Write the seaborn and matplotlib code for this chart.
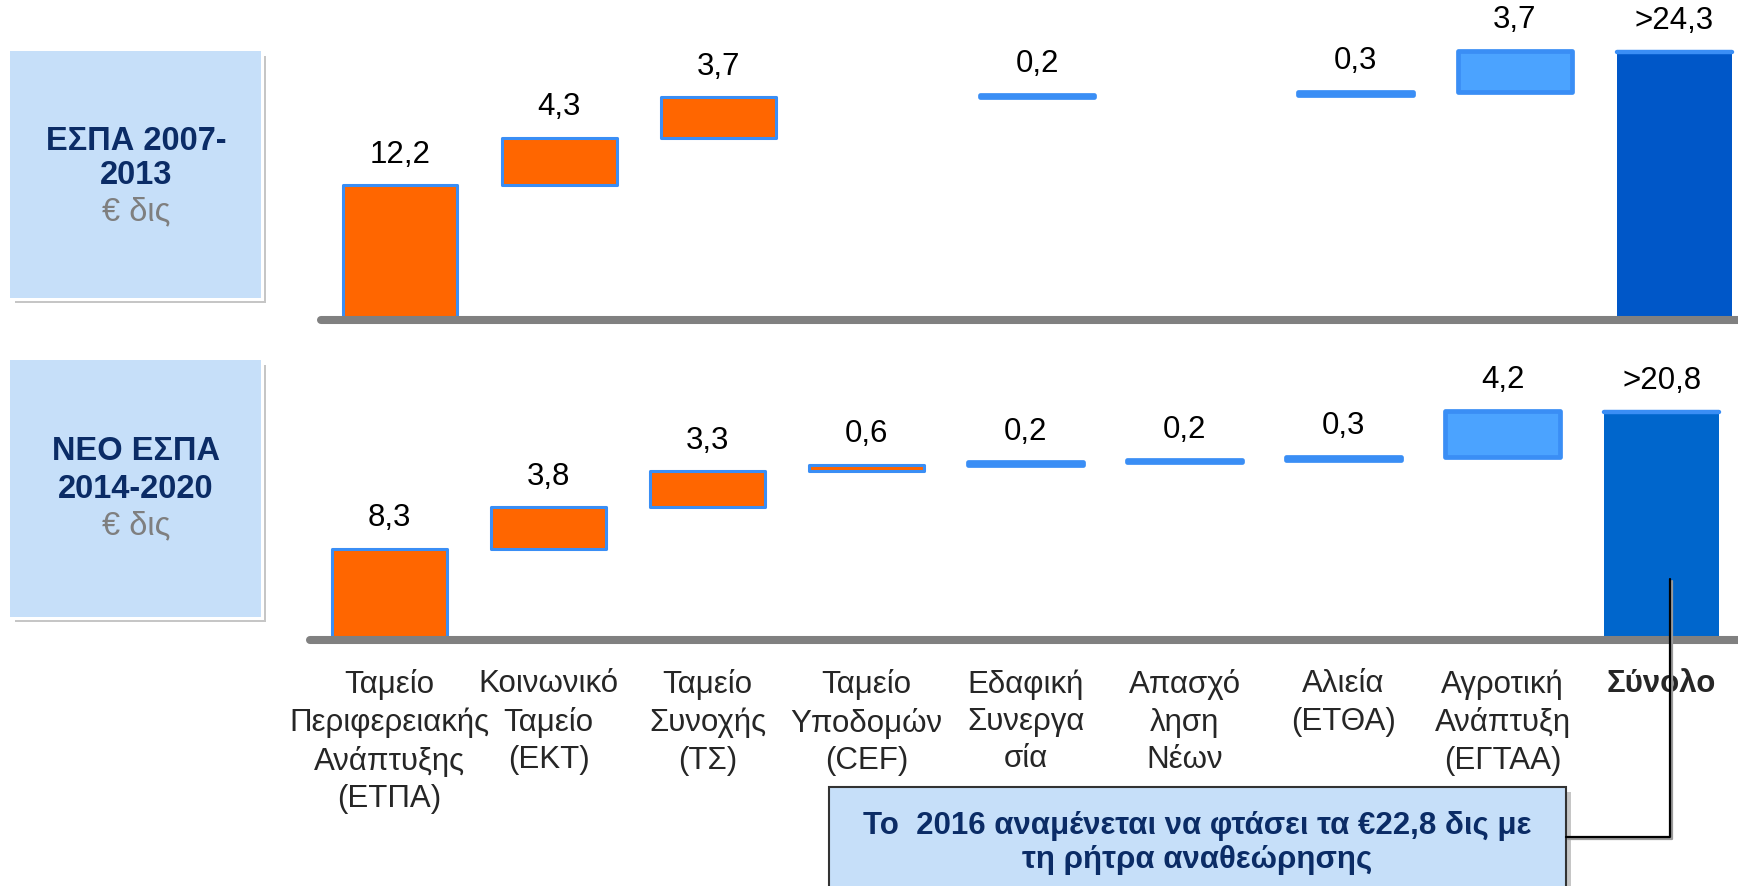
import numpy as np
import pandas as pd
import matplotlib.pyplot as plt
from matplotlib.patches import Rectangle
from matplotlib.lines import Line2D
import seaborn as sns

# Data (billion EUR)
categories = ["Ταμείο\nΠεριφερειακής\nΑνάπτυξης\n(ΕΤΠΑ)", "Κοινωνικό\nΤαμείο\n(ΕΚΤ)",
              "Ταμείο\nΣυνοχής\n(ΤΣ)", "Ταμείο\nΥποδομών\n(CEF)", "Εδαφική\nΣυνεργα\nσία",
              "Απασχό\nληση\nΝέων", "Αλιεία\n(ΕΤΘΑ)", "Αγροτική\nΑνάπτυξη\n(ΕΓΤΑΑ)", "Σύνολο"]
steps_0713 = [12.2, 4.3, 3.7, 0.0, 0.2, 0.0, 0.3, 3.7]
total_0713 = 24.3
steps_1420 = [8.3, 3.8, 3.3, 0.6, 0.2, 0.2, 0.3, 4.2]
total_1420 = 20.8
panel_titles = [("ΕΣΠΑ 2007-", "2013"), ("ΝΕΟ ΕΣΠΑ", "2014-2020")]
unit_label = "€ δις"
note_lines = ["Το  2016 αναμένεται να φτάσει τα €22,8 δις με", "τη ρήτρα αναθεώρησης"]

ORANGE = "#FF6600"
LIGHT = "#4BA3FF"
EDGE = "#3A8EF5"
NAVY = "#0B2C66"
BOXFILL = "#C6DFF9"

sns.set_style("white")
plt.rcParams["font.family"] = ["Liberation Sans", "DejaVu Sans"]

W, H = 1738, 886
fig = plt.figure(figsize=(W / 100, H / 100), dpi=100)


def fx(x):
    return x / W


def fy(y):
    return 1 - y / H


def fmt(v):
    return f"{v:.1f}".replace(".", ",")


def waterfall(ax, steps, total, total_color):
    starts = np.concatenate([[0], np.cumsum(steps)[:-1]])
    df = pd.DataFrame({"cat": categories, "h": list(steps) + [total]})
    bottoms = list(starts) + [0]
    sns.barplot(data=df, x="cat", y="h", bottom=bottoms, width=0.72,
                color=ORANGE, saturation=1, errorbar=None, ax=ax)
    faces = [ORANGE] * 4 + [LIGHT] * 4 + [total_color]
    lws = [2.2] * 4 + [3.4] * 4 + [0]
    for i, p in enumerate(ax.patches):
        p.set_facecolor(faces[i])
        p.set_edgecolor(EDGE)
        p.set_linewidth(lws[i])
        p.set_joinstyle("round")
        if df["h"][i] == 0:
            p.set_visible(False)
            continue
        top = bottoms[i] + df["h"][i]
        label = fmt(df["h"][i]) if i < len(steps) else ">" + fmt(total)
        ax.annotate(label, (p.get_x() + p.get_width() / 2, top), xytext=(0, 22),
                    textcoords="offset points", ha="center", va="center",
                    fontsize=22.5, color="black")
    p = ax.patches[-1]
    ax.plot([p.get_x(), p.get_x() + p.get_width()], [total, total],
            color=EDGE, lw=3.2, solid_capstyle="round", zorder=4)
    ax.axhline(0, color="#808080", lw=5.8, clip_on=False, zorder=5)
    ax.set_xlabel("")
    ax.set_ylabel("")
    ax.set_yticks([])
    sns.despine(ax=ax, left=True, bottom=True)


ax_top = fig.add_axes([fx(321), fy(320), fx(W - 321), 320 / H])
waterfall(ax_top, steps_0713, total_0713, "#0057C8")
ax_top.set_xlim(-0.496, 8.40)
ax_top.set_ylim(0, 320 / 11.03)
ax_top.set_xticks([])

ax_bot = fig.add_axes([fx(310), fy(640), fx(W - 310), 310 / H])
waterfall(ax_bot, steps_1420, total_1420, "#0066CC")
ax_bot.set_xlim(-0.50, 8.48)
ax_bot.set_ylim(0, 310 / 10.96)
ax_bot.set_xticks(range(len(categories)))
ax_bot.set_xticklabels(categories, fontsize=22.5, linespacing=1.32)
ax_bot.get_xticklabels()[-1].set_fontweight("bold")
ax_bot.tick_params(axis="x", length=0, pad=21)


def box(x0, y0, x1, y1, edge=None):
    fig.add_artist(Rectangle((fx(x0 + 5), fy(y1 + 5)), fx(x1 - x0), (y1 - y0) / H,
                             transform=fig.transFigure, facecolor="#a0a0a0",
                             edgecolor="none", alpha=0.6, zorder=1))
    if edge is None:
        fig.add_artist(Rectangle((fx(x0 - 3), fy(y1 + 3)), fx(x1 - x0 + 6), (y1 - y0 + 6) / H,
                                 transform=fig.transFigure, facecolor="white",
                                 edgecolor="none", zorder=2))
    fig.add_artist(Rectangle((fx(x0), fy(y1)), fx(x1 - x0), (y1 - y0) / H,
                             transform=fig.transFigure, facecolor=BOXFILL,
                             edgecolor=edge or "none", lw=1.5, zorder=3))


# side panels
for (l1, l2), (y0, y1), ys in zip(panel_titles, [(51, 298), (360, 617)],
                                  [(142, 176, 212), (452, 489, 526)]):
    box(10, y0, 261, y1)
    fig.text(fx(136), fy(ys[0]), l1, ha="center", va="center", fontsize=23.5,
             fontweight="bold", color=NAVY, zorder=4)
    fig.text(fx(136), fy(ys[1]), l2, ha="center", va="center", fontsize=23.5,
             fontweight="bold", color=NAVY, zorder=4)
    fig.text(fx(136), fy(ys[2]), unit_label, ha="center", va="center", fontsize=23.5,
             color="#7F7F7F", zorder=4)

# note box and connector
box(829, 787, 1566, 905, edge="#333333")
fig.text(fx(1197), fy(826), note_lines[0], ha="center", va="center", fontsize=22.5,
         fontweight="bold", color=NAVY, zorder=4)
fig.text(fx(1197), fy(860), note_lines[1], ha="center", va="center", fontsize=22.5,
         fontweight="bold", color=NAVY, zorder=4)
fig.add_artist(Line2D([fx(1568), fx(1672), fx(1672)], [fy(839), fy(839), fy(581)],
                      transform=fig.transFigure, color="#9a9a9a", lw=1.6, zorder=5))
fig.add_artist(Line2D([fx(1566), fx(1670), fx(1670)], [fy(837), fy(837), fy(579)],
                      transform=fig.transFigure, color="black", lw=1.6, zorder=6))

fig.savefig("out.png", dpi=100)
